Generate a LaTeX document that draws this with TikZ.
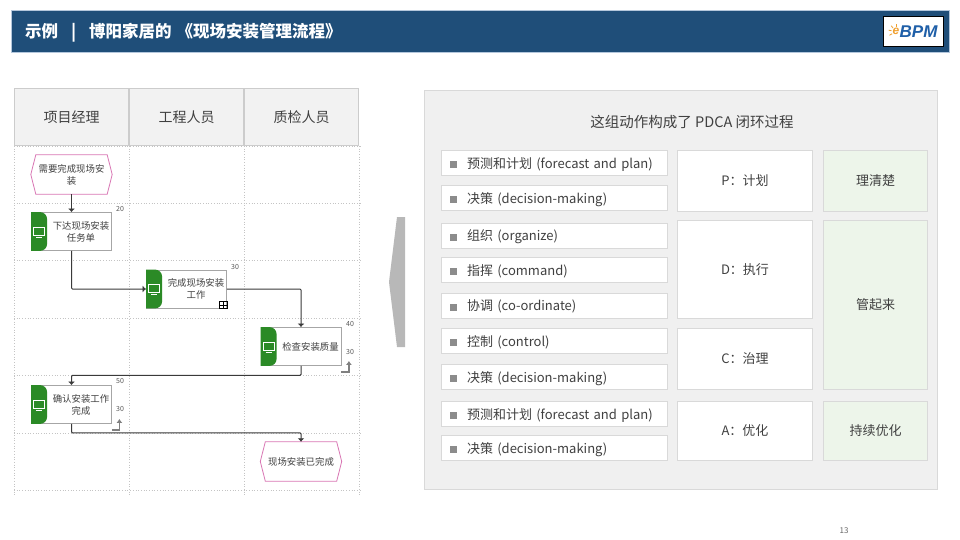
\documentclass[tikz,border=0pt]{standalone}
\usepackage{fontspec}
\setmainfont{Noto Sans CJK SC}
\newfontfamily\logofont{Liberation Sans}
\usetikzlibrary{arrows.meta,positioning,calc}
\definecolor{cbar}{HTML}{1F4E79}
\definecolor{cbarL}{HTML}{B4C7DC}
\definecolor{chead}{HTML}{F2F2F2}
\definecolor{cline}{HTML}{CCCCCC}
\definecolor{cdots}{HTML}{C4C4C4}
\definecolor{ctab}{HTML}{2B8A26}
\definecolor{cpink}{HTML}{D977B4}
\definecolor{cpanel}{HTML}{F0F0F0}
\definecolor{cpanelD}{HTML}{D9D9D9}
\definecolor{cgood}{HTML}{EDF5EA}
\definecolor{ctxt}{HTML}{404040}
\definecolor{cflow}{HTML}{3A3A3A}
\definecolor{cbpm}{HTML}{1F5FA8}
\definecolor{cbpmO}{HTML}{F0A030}
\tikzset{
  lanehead/.style={draw=cline, fill=chead, line width=1pt, minimum width=114pt, minimum height=57pt,
                   inner sep=0pt, text=ctxt, font=\fontsize{14}{16}\selectfont},
  lanerow/.style={cdots, dotted, line width=0.7pt},
  hexbox/.style={minimum width=81pt, minimum height=39pt, inner sep=0pt, align=center,
                 text=ctxt, font=\fontsize{9.4}{12}\selectfont},
  funcbox/.style={draw=black!35, fill=white, line width=0.8pt, minimum width=80pt, minimum height=38pt, inner sep=0pt},
  functext/.style={align=center, inner sep=0pt, text=ctxt, font=\fontsize{9.4}{12}\selectfont},
  numlbl/.style={inner sep=0pt, text=black!65, font=\fontsize{7}{8}\selectfont},
  itembox/.style={draw=cpanelD, fill=white, line width=0.8pt, minimum width=226pt, minimum height=25.2pt,
                  inner xsep=8.5pt, inner ysep=0pt, text width=209pt, text height=11pt, text depth=1pt,
                  align=left, text=ctxt, font=\fontsize{13}{15}\selectfont},
  pbox/.style={draw=cpanelD, fill=white, line width=0.8pt, minimum width=135pt, inner sep=0pt,
               text=ctxt, font=\fontsize{13}{15}\selectfont},
  gbox/.style={draw=cpanelD, fill=cgood, line width=0.8pt, minimum width=104pt, inner sep=0pt,
               text=ctxt, font=\fontsize{13}{15}\selectfont},
  flow/.style={-{Latex[length=3.5pt,width=7pt]}, cflow, line width=1pt, rounded corners=1pt},
  turnup/.style={-{Latex[length=4pt,width=6pt]}, black!50, line width=1.8pt},
}
\newcommand{\funcnode}[4]{
  \node[funcbox] (#1) at (#2,#3) {};
  \fill[ctab, rounded corners=7pt] (#1.north west) -- ([xshift=16pt]#1.north west)
    -- ([xshift=16pt]#1.south west) -- (#1.south west);
  \coordinate (#1m) at ([xshift=8pt]#1.west);
  \draw[white, line width=0.8pt] ([shift={(-5.5pt,4.5pt)}]#1m) rectangle ([shift={(5.5pt,-3.5pt)}]#1m);
  \draw[white, line width=0.9pt] ([shift={(-3pt,-5.5pt)}]#1m) -- ([shift={(3pt,-5.5pt)}]#1m);
  \node[functext] (#1t) at ([xshift=9.5pt]#1.center) {#4};
}
\newcommand{\itembul}{\textcolor{black!45}{\rule{7pt}{7pt}}\hspace{10pt}}
\begin{document}
\begin{tikzpicture}[x=1pt,y=-1pt]
  \useasboundingbox (0,0) rectangle (960,540);
  \fill[white] (0,0) rectangle (960,540);
  % title bar
  \node[draw=cbarL, fill=cbar, minimum width=938pt, minimum height=42pt, inner sep=0pt] (bar) at (480,31) {};
  \node[anchor=west, inner sep=0pt, text=white, font=\fontsize{16.5}{18}\bfseries\selectfont] (title) at (25,32.5)
    {示例\hspace{0.78em}|\hspace{0.78em}博阳家居的\hspace{5pt}《现场安装管理流程》};
  \node[draw=black, fill=white, line width=0.8pt, minimum width=60pt, minimum height=30pt, inner sep=0pt] (logo) at (913,31) {};
  \node[anchor=west, inner sep=0pt, text=cbpm, font=\logofont\fontsize{17}{18}\bfseries\itshape\selectfont] (bpm) at (899.5,31.5) {BPM};
  \node[anchor=east, inner sep=0pt, text=cbpmO, font=\logofont\fontsize{12}{12}\bfseries\itshape\selectfont] (esun) at (bpm.west) {e};
  \foreach \a in {90,130,170,210}
    \draw[cbpmO, line width=0.8pt] ($(esun.center)+(\a:4.5pt)$) -- ($(esun.center)+(\a:7.5pt)$);
  % swimlanes
  \node[lanehead] (l1) at (71.5,117) {项目经理};
  \node[lanehead, right=0pt of l1] (l2) {工程人员};
  \node[lanehead, right=0pt of l2] (l3) {质检人员};
  \foreach \y in {146,203,260.5,318,375.5,433,490} \draw[lanerow] (14,\y) -- (360,\y);
  \foreach \x in {14,129,244,359} \draw[lanerow] (\x,146) -- (\x,495);
  \node[hexbox] (need) at (71.5,174.5) {需要完成现场安\\装};
  \funcnode{fa}{71.5}{231.5}{下达现场安装\\任务单}
  \funcnode{fb}{186.5}{289}{完成现场安装\\工作}
  \funcnode{fc}{301}{346.5}{检查安装质量}
  \funcnode{fd}{71.5}{404.5}{确认安装工作\\完成}
  \node[hexbox] (done) at (301,461.5) {现场安装已完成};
  \foreach \h in {need,done}
    \draw[cpink, line width=0.8pt] (\h.west) -- ([xshift=5pt]\h.north west) -- ([xshift=-5pt]\h.north east)
      -- (\h.east) -- ([xshift=-5pt]\h.south east) -- ([xshift=5pt]\h.south west) -- cycle;
  \draw[flow] (need)--(fa);
  \draw[flow] (fa.south) |- (fb.west);
  \draw[flow] (fb.east) -| (fc.north);
  \draw[flow] (fc.south) -- ++(0,9.5) -| (fd.north);
  \draw[flow] (fd.south) -- ++(0,9) -| (done.north);
  \node[numlbl] (na) at (120,209) {20};
  \node[numlbl] (nb) at (235,267) {30};
  \node[numlbl] (nc) at (350,324) {40};
  \node[numlbl] (nd) at (120,381.5) {50};
  \node[numlbl] (tc) at (350,352) {30};
  \node[numlbl] (td) at (120,409.5) {30};
  \draw[turnup] ([yshift=-6pt]fc.south east) -- ++(7.5,0) -- ++(0,-11);
  \draw[turnup] ([yshift=-6pt]fd.south east) -- ++(7.5,0) -- ++(0,-11);
  % sub process mark
  \draw[black, line width=0.6pt] ([shift={(-8pt,0pt)}]fb.south east) rectangle ([shift={(0pt,7pt)}]fb.south east);
  \draw[black, line width=0.6pt] ([shift={(-4pt,0pt)}]fb.south east) -- ([shift={(-4pt,7pt)}]fb.south east);
  \draw[black, line width=0.6pt] ([shift={(-8pt,3.5pt)}]fb.south east) -- ([shift={(0pt,3.5pt)}]fb.south east);
  % arrow between
  \fill[black!28] (397,217) -- (405,217) -- (405,347) -- (397,347) -- (389,282) -- cycle;
  % panel
  \node[draw=cpanelD, fill=cpanel, line width=1pt, minimum width=513pt, minimum height=399pt, inner sep=0pt] (panel) at (681,290) {};
  \node[inner sep=0pt, text=ctxt, font=\fontsize{14.5}{16}\selectfont] (ptitle) at (692,122) {这组动作构成了 PDCA 闭环过程};
  \node[itembox] (ia) at (554.5,163) {\itembul 预测和计划 (forecast and plan)};
  \node[itembox, below=9pt of ia] (ib) {\itembul 决策 (decision-making)};
  \node[itembox, below=11.5pt of ib] (ic) {\itembul 组织 (organize)};
  \node[itembox, below=8.5pt of ic] (id) {\itembul 指挥 (command)};
  \node[itembox, below=9.5pt of id] (ie) {\itembul 协调 (co-ordinate)};
  \node[itembox, below=9.5pt of ie] (ig) {\itembul 控制 (control)};
  \node[itembox, below=10pt of ig] (ih) {\itembul 决策 (decision-making)};
  \node[itembox, below=11pt of ih] (ii) {\itembul 预测和计划 (forecast and plan)};
  \node[itembox, below=8pt of ii] (ij) {\itembul 决策 (decision-making)};
  \node[pbox, minimum height=61pt] (pp) at (745,181) {P：计划};
  \node[pbox, minimum height=98pt] (pd) at (745,269.5) {D：执行};
  \node[pbox, minimum height=61pt] (pc) at (745,359) {C：治理};
  \node[pbox, minimum height=59pt] (pa) at (745,431) {A：优化};
  \node[gbox, minimum height=61pt] (ga) at (875.5,181) {理清楚};
  \node[gbox, minimum height=169pt] (gb) at (875.5,305) {管起来};
  \node[gbox, minimum height=59pt] (gc) at (875.5,431) {持续优化};
  \node[inner sep=0pt, text=black!60, font=\fontsize{8}{9}\selectfont] (page) at (844,531) {13};
\end{tikzpicture}
\end{document}
